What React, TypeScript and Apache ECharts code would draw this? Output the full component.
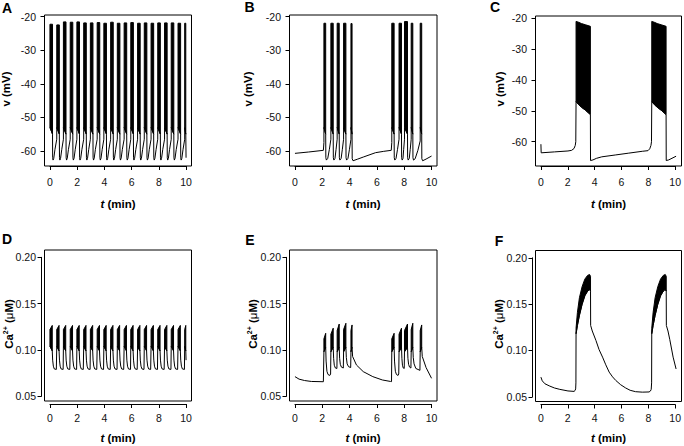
import React, { useEffect, useRef } from "react";
import * as echarts from "echarts";

// ---------------- tick labels ----------------
const timeTicks = [0, 2, 4, 6, 8, 10];
const voltTicks = [-60, -50, -40, -30, -20];
const caTicks = [0.05, 0.1, 0.15, 0.2];

// ---------------- Panel A : v, regular bursting ----------------
const aBurstStart = [0.0, 0.5, 0.99, 1.49, 1.98, 2.48, 2.97, 3.47, 3.96, 4.46, 4.95, 5.45, 5.94, 6.44, 6.93, 7.43, 7.92, 8.42, 8.91, 9.41, 9.9];
const aBurstEnd = [0.19, 0.69, 1.18, 1.68, 2.17, 2.67, 3.16, 3.66, 4.15, 4.65, 5.14, 5.64, 6.13, 6.63, 7.12, 7.62, 8.11, 8.61, 9.1, 9.6, 9.98];
const aBurstTop = [-22.3, -22.5, -21.6, -21.7, -21.6, -21.9, -21.9, -21.8, -22.0, -21.7, -22.0, -21.9, -21.8, -22.0, -21.9, -22.0, -21.9, -21.9, -21.9, -22.0, -22.0];
const aBurstLow = [-53, -55];
const aRecoveryDt = [0, 0.01, 0.04, 0.09, 0.18];
const aRecoveryV = [-55, -62.0, -62.7, -62.2, -59.5];
const aPreBurstV = -56.5;
const aEndPoint = [10.0, -62];

// ---------------- Panel B : v, two burst groups ----------------
const bBurstStart = [2.12, 2.63, 3.09, 3.56, 4.1, 7.09, 7.62, 8.02, 8.51, 9.17];
const bBurstEnd = [2.25, 2.8, 3.24, 3.73, 4.18, 7.26, 7.8, 8.24, 8.63, 9.28];
const bBurstTop = [-22.0, -22.0, -22.0, -22.0, -22.1, -22.0, -22.0, -21.5, -22.0, -22.0];
const bBurstLow = [-53, -55];
const bTrace = [
  [0, -60.7], [1.0, -60.3], [2.08, -59.8], [2.12, -57.5], [2.12, -53],
  [2.25, -55], [2.26, -62.0], [2.3, -62.7], [2.4, -62.2], [2.52, -59.5], [2.63, -56.5], [2.63, -53],
  [2.8, -55], [2.81, -62.0], [2.85, -62.7], [2.93, -62.2], [3.01, -59.5], [3.09, -56.5], [3.09, -53],
  [3.24, -55], [3.25, -62.0], [3.29, -62.7], [3.38, -62.2], [3.47, -59.5], [3.56, -56.5], [3.56, -53],
  [3.73, -55], [3.74, -62.0], [3.78, -62.7], [3.88, -62.2], [3.99, -59.5], [4.1, -56.5], [4.1, -53],
  [4.18, -55], [4.19, -62.3], [4.25, -62.9], [4.6, -62.4], [5.0, -61.8], [5.9, -60.5], [6.5, -60.1], [7.05, -59.8], [7.09, -57.5], [7.09, -53],
  [7.26, -55], [7.27, -62.0], [7.31, -62.7], [7.4, -62.2], [7.51, -59.5], [7.62, -56.5], [7.62, -53],
  [7.8, -55], [7.81, -62.0], [7.85, -62.7], [7.91, -62.2], [7.96, -59.5], [8.02, -56.5], [8.02, -53],
  [8.24, -55], [8.25, -62.0], [8.29, -62.7], [8.37, -62.2], [8.44, -59.5], [8.51, -56.5], [8.51, -53],
  [8.63, -55], [8.64, -62.0], [8.68, -62.7], [8.8, -62.3], [9.0, -59.8], [9.17, -57.0], [9.17, -53],
  [9.28, -55], [9.29, -62.3], [9.35, -62.9], [9.6, -62.4], [10.0, -61.5],
];

// ---------------- Panel C : v, long plateau bursts ----------------
const cBandT = [[2.6, 2.8, 3.0, 3.3, 3.66], [8.2, 8.4, 8.6, 8.9, 9.26]];
const cBandHi = [-21.0, -21.3, -21.7, -22.1, -22.6];
const cBandLo = [-47.0, -48.0, -48.8, -49.8, -51.2];
// trace pieces between the plateaus (before 1st, between, after 2nd)
const cTracePieces = [
  [[0, -60.8], [0.02, -63.6], [1.0, -63.3], [2.0, -63.0], [2.27, -62.8], [2.45, -62.2], [2.54, -61.2], [2.58, -60.0]],
  [[3.67, -66.1], [3.85, -65.9], [4.1, -65.4], [4.5, -64.9], [5.5, -64.3], [6.5, -63.7], [7.5, -63.1], [7.92, -62.9], [8.05, -62.3], [8.14, -61.2], [8.18, -60.0]],
  [[9.27, -66.1], [9.45, -65.9], [10.0, -64.7]],
];

// ---------------- Panel D : Ca, regular ----------------
const dBurstStart = [0.0, 0.5, 0.99, 1.49, 1.98, 2.48, 2.97, 3.47, 3.96, 4.46, 4.95, 5.45, 5.94, 6.44, 6.93, 7.43, 7.92, 8.42, 8.91, 9.41, 9.9];
const dBurstEnd = [0.17, 0.67, 1.16, 1.66, 2.15, 2.65, 3.14, 3.64, 4.13, 4.63, 5.12, 5.62, 6.11, 6.61, 7.1, 7.6, 8.09, 8.59, 9.08, 9.58, 9.98];
const dBandHi = [0.122, 0.1265];
const dBandLo = [0.104, 0.099];
const dRecoveryDt = [0, 0.03, 0.08, 0.15, 0.3];
const dRecoveryV = [0.099, 0.089, 0.0825, 0.0795, 0.079];
const dPreBurstV = 0.0792;
const dEndPoint = [10.0, 0.089];

// ---------------- Panel E : Ca, two burst groups ----------------
const eBurstStart = [2.12, 2.63, 3.09, 3.56, 4.1, 7.09, 7.62, 8.02, 8.51, 9.17];
const eBurstEnd = [2.25, 2.8, 3.24, 3.73, 4.18, 7.26, 7.8, 8.24, 8.63, 9.28];
const eBandHiStart = [0.112, 0.117, 0.121, 0.122, 0.121, 0.112, 0.117, 0.121, 0.122, 0.121];
const eBandHiEnd = [0.118, 0.1235, 0.128, 0.1288, 0.127, 0.118, 0.1235, 0.128, 0.1288, 0.127];
const eBandLo = [0.098, 0.103];
const eTrace = [
  [0, 0.0712], [0.3, 0.0685], [0.7, 0.067], [1.2, 0.066], [2.08, 0.0657], [2.12, 0.098],
  [2.25, 0.103], [2.28, 0.088], [2.34, 0.077], [2.42, 0.0735], [2.55, 0.0725], [2.61, 0.074], [2.63, 0.098],
  [2.8, 0.103], [2.83, 0.091], [2.88, 0.0835], [2.96, 0.0805], [3.07, 0.08], [3.09, 0.098],
  [3.24, 0.103], [3.27, 0.091], [3.32, 0.0845], [3.4, 0.0815], [3.54, 0.0805], [3.56, 0.098],
  [3.73, 0.103], [3.76, 0.092], [3.82, 0.085], [3.92, 0.082], [4.08, 0.081], [4.1, 0.098],
  [4.18, 0.103], [4.22, 0.093], [4.5, 0.0838], [5.0, 0.0766], [5.7, 0.0712], [6.4, 0.0676], [7.0, 0.066], [7.07, 0.0658], [7.09, 0.098],
  [7.26, 0.103], [7.29, 0.088], [7.35, 0.077], [7.43, 0.0735], [7.55, 0.0725], [7.6, 0.074], [7.62, 0.098],
  [7.8, 0.103], [7.83, 0.091], [7.87, 0.0835], [7.93, 0.0805], [8.0, 0.08], [8.02, 0.098],
  [8.24, 0.103], [8.27, 0.091], [8.32, 0.0845], [8.39, 0.0815], [8.49, 0.0805], [8.51, 0.098],
  [8.63, 0.103], [8.66, 0.092], [8.72, 0.085], [8.85, 0.08], [9.15, 0.078], [9.17, 0.098],
  [9.28, 0.103], [9.32, 0.093], [9.6, 0.081], [10.0, 0.0694],
];

// ---------------- Panel F : Ca, long plateau bursts ----------------
const fBandT = [[2.6, 2.7, 2.85, 3.05, 3.25, 3.45, 3.6, 3.67], [8.2, 8.3, 8.45, 8.65, 8.85, 9.05, 9.2, 9.27]];
const fBandHi = [0.124, 0.141, 0.157, 0.169, 0.177, 0.181, 0.182, 0.18];
const fBandLo = [0.118, 0.127, 0.138, 0.15, 0.159, 0.164, 0.166, 0.164];
const fTracePieces = [
  [[0, 0.0712], [0.1, 0.0672], [0.3, 0.064], [0.66, 0.0615], [1.0, 0.0595], [1.4, 0.058], [2.0, 0.0563], [2.45, 0.0558], [2.53, 0.0568], [2.57, 0.0585], [2.59, 0.065]],
  [[3.68, 0.127], [3.8, 0.121], [4.07, 0.1108], [4.3, 0.101], [4.56, 0.0928], [4.8, 0.0845], [5.05, 0.0766], [5.3, 0.0715], [5.54, 0.0676], [5.9, 0.063], [6.27, 0.0595], [6.6, 0.057], [7.0, 0.0555], [7.5, 0.055], [8.0, 0.0552], [8.1, 0.0562], [8.16, 0.058], [8.19, 0.065]],
  [[9.28, 0.127], [9.4, 0.121], [9.53, 0.112], [9.78, 0.0928], [10.0, 0.08]],
];

// ---------------- helpers ----------------
type Band = { t: number[]; hi: number[]; lo: number[] };

function regularBursts(
  starts: number[], ends: number[], hiS: number[], hiE: number[], lo: number[],
  recDt: number[], recV: number[], preV: number, endPt: number[], firstV: number
) {
  const trace: number[][] = [];
  const bands: Band[] = [];
  for (let i = 0; i < starts.length; i++) {
    bands.push({ t: [starts[i], ends[i]], hi: [hiS[i], hiE[i]], lo: [lo[0], lo[1]] });
    if (i === 0) trace.push([starts[i], firstV]);
    else {
      trace.push([starts[i], preV]);
      trace.push([starts[i], lo[0]]);
    }
    trace.push([ends[i], lo[1]]);
    if (i < starts.length - 1) {
      for (let k = 1; k < recDt.length; k++) trace.push([ends[i] + recDt[k], recV[k]]);
    } else trace.push(endPt);
  }
  return { trace, bands };
}

// joins trace pieces with the lower edge of each plateau band between them
function joinPieces(pieces: number[][][], bands: Band[]) {
  const out: number[][] = [];
  pieces.forEach((pc, i) => {
    pc.forEach((pt) => out.push(pt));
    if (i < bands.length) bands[i].t.forEach((t, k) => out.push([t, bands[i].lo[k]]));
  });
  return out;
}

const A = regularBursts(aBurstStart, aBurstEnd, aBurstTop, aBurstTop, aBurstLow, aRecoveryDt, aRecoveryV, aPreBurstV, aEndPoint, aBurstLow[0]);
const D = regularBursts(
  dBurstStart, dBurstEnd, dBurstStart.map(() => dBandHi[0]), dBurstStart.map(() => dBandHi[1]), dBandLo,
  dRecoveryDt, dRecoveryV, dPreBurstV, dEndPoint, dBandLo[0]
);
const bBands: Band[] = bBurstStart.map((s, i) => ({ t: [s, bBurstEnd[i]], hi: [bBurstTop[i], bBurstTop[i]], lo: bBurstLow }));
const eBands: Band[] = eBurstStart.map((s, i) => ({ t: [s, eBurstEnd[i]], hi: [eBandHiStart[i], eBandHiEnd[i]], lo: eBandLo }));
const cBands: Band[] = cBandT.map((t) => ({ t, hi: cBandHi, lo: cBandLo }));
const fBands: Band[] = fBandT.map((t) => ({ t, hi: fBandHi, lo: fBandLo }));
const cTrace = joinPieces(cTracePieces, cBands);
const fTrace = joinPieces(fTracePieces, fBands);

const FONT = '"Liberation Sans", Arial, Helvetica, sans-serif';

const panels = [
  { letter: "A", trace: A.trace, bands: A.bands, box: { left: 44.5, top: 15, width: 147, height: 151 }, xr: [-0.4, 10.4], yr: [-64.46, -19.55], ticks: voltTicks, step: 10, ca: false, axOff: 0, xMargin: 10, yMargin: 8.5, letterPos: [7, 7.5], yTitle: [6, 89], xTitle: [118, 204] },
  { letter: "B", trace: bTrace, bands: bBands, box: { left: 289.5, top: 15, width: 147.5, height: 151 }, xr: [-0.4, 10.4], yr: [-64.46, -19.55], ticks: voltTicks, step: 10, ca: false, axOff: 0, xMargin: 10, yMargin: 8.5, letterPos: [249.5, 6.5], yTitle: [248, 89], xTitle: [363, 204] },
  { letter: "C", trace: cTrace, bands: cBands, box: { left: 535.5, top: 16, width: 146, height: 150 }, xr: [-0.4, 10.4], yr: [-67.87, -19.25], ticks: voltTicks, step: 10, ca: false, axOff: 0, xMargin: 10, yMargin: 8.5, letterPos: [495, 7], yTitle: [500, 89], xTitle: [608.5, 204] },
  { letter: "D", trace: D.trace, bands: D.bands, box: { left: 44.5, top: 250, width: 147, height: 151 }, xr: [-0.4, 10.4], yr: [0.0449, 0.2079], ticks: caTicks, step: 0.05, ca: true, axOff: 3, xMargin: 8, yMargin: 5.5, letterPos: [7, 239], yTitle: [9, 324], xTitle: [118, 438] },
  { letter: "E", trace: eTrace, bands: eBands, box: { left: 289.5, top: 250, width: 147.5, height: 151 }, xr: [-0.4, 10.4], yr: [0.0449, 0.2079], ticks: caTicks, step: 0.05, ca: true, axOff: 3, xMargin: 8, yMargin: 5.5, letterPos: [250, 240], yTitle: [253, 324], xTitle: [363, 438] },
  { letter: "F", trace: fTrace, bands: fBands, box: { left: 535.5, top: 250.5, width: 146, height: 151 }, xr: [-0.4, 10.4], yr: [0.0449, 0.2079], ticks: caTicks, step: 0.05, ca: true, axOff: 3, xMargin: 8, yMargin: 5.5, letterPos: [499, 241], yTitle: [498.5, 324], xTitle: [608.5, 438] },
];

function buildOption() {
  const grid: any[] = [];
  const xAxis: any[] = [];
  const yAxis: any[] = [];
  const series: any[] = [];
  const graphic: any[] = [];

  panels.forEach((p, pi) => {
    const b = p.box;
    grid.push({ left: b.left, top: b.top, width: b.width, height: b.height, show: true, borderColor: "#000", borderWidth: 1, backgroundColor: "transparent" });
    xAxis.push({ gridIndex: 2 * pi, type: "value", min: p.xr[0], max: p.xr[1], show: false });
    yAxis.push({ gridIndex: 2 * pi, type: "value", min: p.yr[0], max: p.yr[1], show: false });

    const pxX = b.width / (p.xr[1] - p.xr[0]);
    const t0 = timeTicks[0];
    const t1 = timeTicks[timeTicks.length - 1];
    const gx0 = b.left + (t0 - p.xr[0]) * pxX;
    const gw = (t1 - t0) * pxX;
    const pxY = b.height / (p.yr[1] - p.yr[0]);
    const yHi = Math.max(...p.ticks);
    const yLo = Math.min(...p.ticks);
    const gy0 = b.top + (p.yr[1] - yHi) * pxY;
    const gh = (yHi - yLo) * pxY;
    grid.push({ left: gx0, top: gy0, width: gw, height: gh, show: false });
    const common = {
      axisLine: { show: true, onZero: false, lineStyle: { color: "#000", width: 1 } },
      axisTick: { show: true, inside: false, length: 4, lineStyle: { color: "#000", width: 1 } },
      splitLine: { show: false },
    };
    xAxis.push({
      gridIndex: 2 * pi + 1, type: "value", min: t0, max: t1, interval: timeTicks[1] - timeTicks[0], position: "bottom",
      offset: b.top + b.height - (gy0 + gh) + p.axOff,
      ...common,
      axisLabel: { show: true, margin: p.xMargin, fontSize: 10.5, fontFamily: FONT, color: "#111" },
    });
    yAxis.push({
      gridIndex: 2 * pi + 1, type: "value", min: yLo, max: yHi, interval: p.step, position: "left",
      offset: gx0 - b.left + p.axOff,
      ...common,
      axisLabel: {
        show: true, margin: p.yMargin, fontSize: 10.5, fontFamily: FONT, color: "#111",
        formatter: (v: number) => (p.ca ? v.toFixed(2) : String(Math.round(v))),
      },
    });

    series.push({
      type: "line", xAxisIndex: 2 * pi, yAxisIndex: 2 * pi, data: p.trace, showSymbol: false, symbol: "none",
      lineStyle: { color: "#000", width: 1 }, silent: true, clip: true, z: 2,
    });
    const bands = p.bands as Band[];
    series.push({
      type: "custom", xAxisIndex: 2 * pi, yAxisIndex: 2 * pi, silent: true, clip: true, z: 3,
      data: bands.map((bd, i) => [bd.t[0], bd.hi[0], i]),
      encode: { x: 0, y: 1 },
      renderItem: (params: any, api: any) => {
        const bd = bands[api.value(2)];
        const pts: number[][] = [];
        for (let k = 0; k < bd.t.length; k++) pts.push(api.coord([bd.t[k], bd.hi[k]]));
        for (let k = bd.t.length - 1; k >= 0; k--) pts.push(api.coord([bd.t[k], bd.lo[k]]));
        return { type: "polygon", shape: { points: pts }, style: { fill: "#000", stroke: "#000", lineWidth: 1 } };
      },
    });

    graphic.push({
      type: "text", x: p.letterPos[0], y: p.letterPos[1],
      style: { text: p.letter, fontSize: 14, fontWeight: "bold", fontFamily: FONT, fill: "#000", align: "center", verticalAlign: "middle" },
    });
    graphic.push({
      type: "text", x: p.xTitle[0], y: p.xTitle[1],
      style: {
        text: "{i|t} (min)", fontSize: 11.5, fontWeight: "bold", fontFamily: FONT, fill: "#000", align: "center", verticalAlign: "middle",
        rich: { i: { fontStyle: "italic", fontWeight: "bold", fontSize: 11.5, fontFamily: FONT, fill: "#000" } },
      },
    });
    graphic.push({
      type: "text", x: p.yTitle[0], y: p.yTitle[1], rotation: Math.PI / 2,
      style: p.ca
        ? {
            text: "{b|Ca}{s|2+}{b| (}{m|\u03bc}{b|M)}", fontSize: 11.5, fontWeight: "bold", fontFamily: FONT, fill: "#000",
            align: "center", verticalAlign: "middle",
            rich: {
              b: { fontSize: 11.5, fontWeight: "bold", fontFamily: FONT, fill: "#000", lineHeight: 14 },
              s: { fontSize: 7, fontWeight: "bold", fontFamily: FONT, fill: "#000", verticalAlign: "top", lineHeight: 9 },
              m: { fontSize: 11.5, fontWeight: "normal", fontFamily: FONT, fill: "#000", lineHeight: 14 },
            },
          }
        : { text: "v (mV)", fontSize: 11.5, fontWeight: "bold", fontFamily: FONT, fill: "#000", align: "center", verticalAlign: "middle" },
    });
  });

  return { animation: false, grid, xAxis, yAxis, series, graphic };
}

export default function App() {
  const ref = useRef<HTMLDivElement>(null);
  useEffect(() => {
    if (!ref.current) return;
    const chart = echarts.init(ref.current, undefined, { renderer: "svg" });
    chart.setOption(buildOption() as any);
    return () => chart.dispose();
  }, []);
  return (
    <div
      ref={ref}
      style={{ position: "absolute", left: 0, top: 0, width: 684, height: 446, background: "#fff" }}
    />
  );
}
